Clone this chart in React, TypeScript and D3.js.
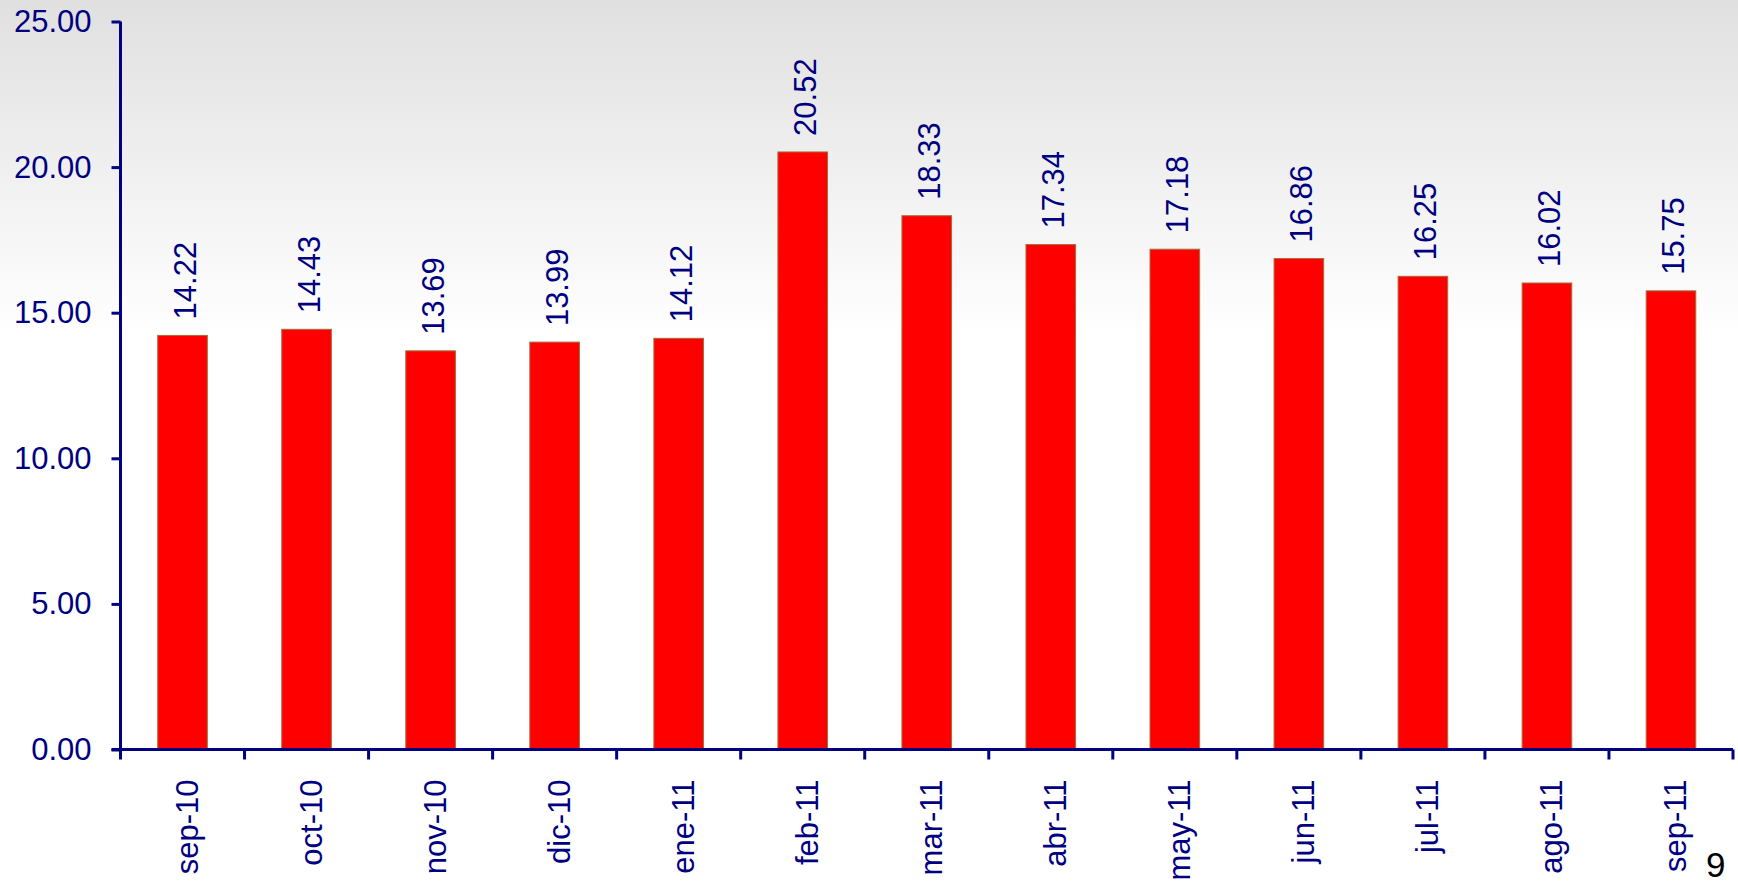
import * as d3 from 'd3';
import { useEffect, useRef } from 'react';

const months = ['sep-10', 'oct-10', 'nov-10', 'dic-10', 'ene-11', 'feb-11', 'mar-11', 'abr-11', 'may-11', 'jun-11', 'jul-11', 'ago-11', 'sep-11'];
const values = [14.22, 14.43, 13.69, 13.99, 14.12, 20.52, 18.33, 17.34, 17.18, 16.86, 16.25, 16.02, 15.75];
const yTicks = [0, 5, 10, 15, 20, 25];
const pageNumber = '9';

const width = 1738;
const height = 883;
const marginLeft = 120.5;
const marginRight = 5;
const marginTop = 21.5;
const axisY = 749.5;
const navy = '#000080';
const font = 'Arial, "Liberation Sans", sans-serif';

const App = () => {
  const ref = useRef<SVGSVGElement>(null);

  useEffect(() => {
    const svg = d3.select(ref.current);
    svg.selectAll('*').remove();

    const defs = svg.append('defs');
    const grad = defs.append('linearGradient').attr('id', 'bg').attr('x1', 0).attr('y1', 0).attr('x2', 0).attr('y2', 1);
    grad.append('stop').attr('offset', '0%').attr('stop-color', '#e0e0e0');
    grad.append('stop').attr('offset', '38%').attr('stop-color', '#ffffff');
    grad.append('stop').attr('offset', '100%').attr('stop-color', '#ffffff');
    svg.append('rect').attr('width', width).attr('height', height).attr('fill', 'url(#bg)');

    const xScale = d3.scaleBand<string>().domain(months).range([marginLeft, width - marginRight]).padding(0);
    const yScale = d3.scaleLinear().domain([0, 25]).range([axisY, marginTop]);
    const barW = xScale.bandwidth() * 0.4;

    // bars
    svg
      .append('g')
      .selectAll('rect')
      .data(values)
      .enter()
      .append('rect')
      .attr('x', (_, i) => (xScale(months[i]) ?? 0) + (xScale.bandwidth() - barW) / 2)
      .attr('y', (d) => yScale(d))
      .attr('width', barW)
      .attr('height', (d) => yScale(0) - yScale(d))
      .attr('fill', '#ff0000')
      .attr('stroke', '#a0703c')
      .attr('stroke-width', 1);

    // value labels
    svg
      .append('g')
      .selectAll('text')
      .data(values)
      .enter()
      .append('text')
      .attr('transform', (d, i) => {
        const cx = (xScale(months[i]) ?? 0) + xScale.bandwidth() / 2 + 13;
        return `translate(${cx},${yScale(d) - 16}) rotate(-90)`;
      })
      .attr('font-family', font)
      .attr('font-size', 31)
      .attr('fill', navy)
      .text((d) => d.toFixed(2));

    // y axis
    const yAxis = svg
      .append('g')
      .attr('transform', `translate(${marginLeft},0)`)
      .call(d3.axisLeft(yScale).tickValues(yTicks).tickSize(9).tickPadding(20).tickFormat((d) => (d as number).toFixed(2)));
    yAxis.select('.domain').attr('stroke', navy).attr('stroke-width', 3).attr('d', `M0,${axisY}V${marginTop}`);
    yAxis.selectAll('line').attr('stroke', navy).attr('stroke-width', 3);
    yAxis.selectAll('text').attr('fill', navy).attr('font-family', font).attr('font-size', 31);

    // x axis
    const xAxis = svg.append('g').attr('transform', `translate(0,${axisY})`);
    xAxis
      .append('line')
      .attr('x1', marginLeft - 9)
      .attr('x2', width - marginRight)
      .attr('stroke', navy)
      .attr('stroke-width', 3);
    const edges = months.map((m) => xScale(m) ?? 0).concat([width - marginRight]);
    xAxis
      .selectAll('.tick')
      .data(edges)
      .enter()
      .append('line')
      .attr('x1', (d) => d)
      .attr('x2', (d) => d)
      .attr('y1', 0)
      .attr('y2', 10)
      .attr('stroke', navy)
      .attr('stroke-width', 3);
    xAxis
      .selectAll('.lbl')
      .data(months)
      .enter()
      .append('text')
      .attr('transform', (d) => `translate(${(xScale(d) ?? 0) + xScale.bandwidth() / 2 + 15.5},30) rotate(-90)`)
      .attr('text-anchor', 'end')
      .attr('font-family', font)
      .attr('font-size', 31)
      .attr('fill', navy)
      .text((d) => d);

    svg
      .append('text')
      .attr('x', 1706)
      .attr('y', 877)
      .attr('font-family', font)
      .attr('font-size', 35)
      .attr('fill', '#000000')
      .text(pageNumber);
  }, []);

  return (
    <div style={{ position: 'absolute', left: 0, top: 0 }}>
      <svg ref={ref} width={width} height={height} style={{ display: 'block' }} />
    </div>
  );
};

export default App;
